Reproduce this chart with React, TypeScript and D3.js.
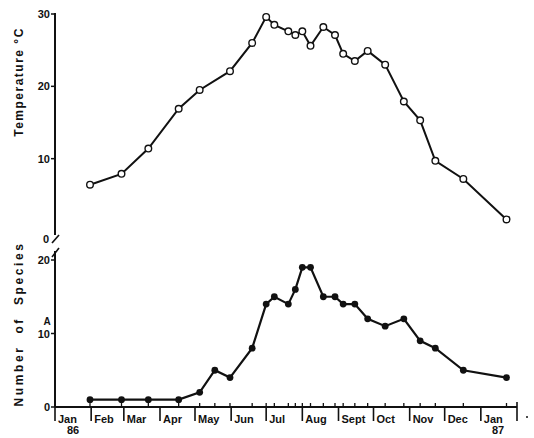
import * as d3 from 'd3'

const sampleDates = [
  '1986-01-31', '1986-02-27', '1986-03-22', '1986-04-17', '1986-05-05', '1986-05-18',
  '1986-05-31', '1986-06-19', '1986-07-01', '1986-07-08', '1986-07-20', '1986-07-26',
  '1986-08-01', '1986-08-08', '1986-08-19', '1986-08-29', '1986-09-05', '1986-09-15',
  '1986-09-26', '1986-10-11', '1986-10-27', '1986-11-10', '1986-11-23', '1986-12-17',
  '1987-01-23',
]
// water temperature, no reading on 18 May
const temperature: (number | null)[] = [
  6.4, 7.9, 11.4, 16.9, 19.5, null, 22.1, 26.0, 29.6, 28.5, 27.6, 27.1, 27.6,
  25.6, 28.2, 27.1, 24.5, 23.5, 24.9, 23.0, 17.9, 15.3, 9.7, 7.2, 1.6,
]
const species = [1, 1, 1, 1, 2, 5, 4, 8, 14, 15, 14, 16, 19, 19, 15, 15, 14, 14, 12, 11, 12, 9, 8, 5, 4]

const monthLabels = ['Jan', 'Feb', 'Mar', 'Apr', 'May', 'Jun', 'Jul', 'Aug', 'Sept', 'Oct', 'Nov', 'Dec', 'Jan']
const tempTicks = [10, 20, 30]
const speciesTicks = [0, 10, 20]

const parse = d3.timeParse('%Y-%m-%d')
const FONT = '"Liberation Sans", Arial, Helvetica, sans-serif'

type Pt = { date: Date; v: number }

export default function App() {
  const dates = sampleDates.map((d) => parse(d) as Date)
  const x = d3.scaleTime().domain([new Date(1986, 0, 1), new Date(1987, 1, 1)]).range([55, 517])
  const yT = d3.scaleLinear().domain([0, 30]).range([231, 14])
  const yS = d3.scaleLinear().domain([0, 20]).range([407, 260])

  const tempPts: Pt[] = []
  temperature.forEach((v, i) => { if (v != null) tempPts.push({ date: dates[i], v }) })
  const spPts: Pt[] = species.map((v, i) => ({ date: dates[i], v }))

  const lineT = d3.line<Pt>().x((d) => x(d.date)).y((d) => yT(d.v))
  const lineS = d3.line<Pt>().x((d) => x(d.date)).y((d) => yS(d.v))

  const months = d3.timeMonth.range(new Date(1986, 0, 1), new Date(1987, 1, 2))
  const axisX0 = x.range()[0]
  const axisX1 = x.range()[1]
  const base = yS(0)

  return (
    <svg width={534} height={438} style={{ position: 'absolute', left: 0, top: 0, background: '#fff' }}
      fontFamily={FONT} fontWeight="bold" fill="#111">
      {/* temperature axis */}
      <line x1={axisX0} x2={axisX0} y1={yT(30) - 1} y2={235} stroke="#111" strokeWidth={2} />
      <line x1={52} y1={243} x2={59} y2={235} stroke="#111" strokeWidth={1.6} />
      {tempTicks.map((t) => (
        <g key={t}>
          <line x1={axisX0 - 4} x2={axisX0} y1={yT(t)} y2={yT(t)} stroke="#111" strokeWidth={1.5} />
          <text x={axisX0 - 5} y={yT(t) + 4} textAnchor="end" fontSize={11}>{t}</text>
        </g>
      ))}
      <text x={49} y={yT(0) + 12} textAnchor="end" fontSize={11}>0</text>
      <text transform="translate(23,82) rotate(-90)" textAnchor="middle" fontSize={12} letterSpacing={1.5}>
        Temperature °C
      </text>

      {/* species axis */}
      <line x1={axisX0} x2={axisX0} y1={251} y2={base} stroke="#111" strokeWidth={2} />
      <line x1={52} y1={257} x2={59} y2={248} stroke="#111" strokeWidth={1.6} />
      {speciesTicks.map((t) => (
        <g key={t}>
          <line x1={axisX0 - 4} x2={axisX0} y1={yS(t)} y2={yS(t)} stroke="#111" strokeWidth={1.5} />
          <text x={axisX0 - 5} y={yS(t) + 4} textAnchor="end" fontSize={11}>{t}</text>
        </g>
      ))}
      <text transform="translate(23,324) rotate(-90)" textAnchor="middle" fontSize={12} letterSpacing={2.6} wordSpacing={6}>
        Number of Species
      </text>
      <text x={47} y={325} textAnchor="middle" fontSize={10}>A</text>

      {/* time axis */}
      <line x1={axisX0} x2={axisX1} y1={base} y2={base} stroke="#111" strokeWidth={2} />
      {months.map((m, i) => (
        <g key={i}>
          <line x1={x(m)} x2={x(m)} y1={i === months.length - 1 ? base - 5 : base} y2={base + 14} stroke="#111" strokeWidth={1.6} />
          {i < monthLabels.length && (
            <text x={x(m) + 3} y={423} fontSize={11}>{monthLabels[i]}</text>
          )}
        </g>
      ))}
      {dates.map((d, i) => (
        <line key={i} x1={x(d)} x2={x(d)} y1={base - 4} y2={base} stroke="#111" strokeWidth={1.3} />
      ))}
      <text x={73} y={434} textAnchor="middle" fontSize={11}>86</text>
      <text x={498} y={434} textAnchor="middle" fontSize={11}>87</text>
      <circle cx={527} cy={417} r={1} fill="#111" />

      {/* series */}
      <path d={lineT(tempPts) ?? ''} fill="none" stroke="#111" strokeWidth={2} />
      {tempPts.map((d, i) => (
        <circle key={i} cx={x(d.date)} cy={yT(d.v)} r={3.3} fill="#fff" stroke="#111" strokeWidth={1.4} />
      ))}
      <path d={lineS(spPts) ?? ''} fill="none" stroke="#111" strokeWidth={2.2} />
      {spPts.map((d, i) => (
        <circle key={i} cx={x(d.date)} cy={yS(d.v)} r={3.4} fill="#111" />
      ))}
    </svg>
  )
}
